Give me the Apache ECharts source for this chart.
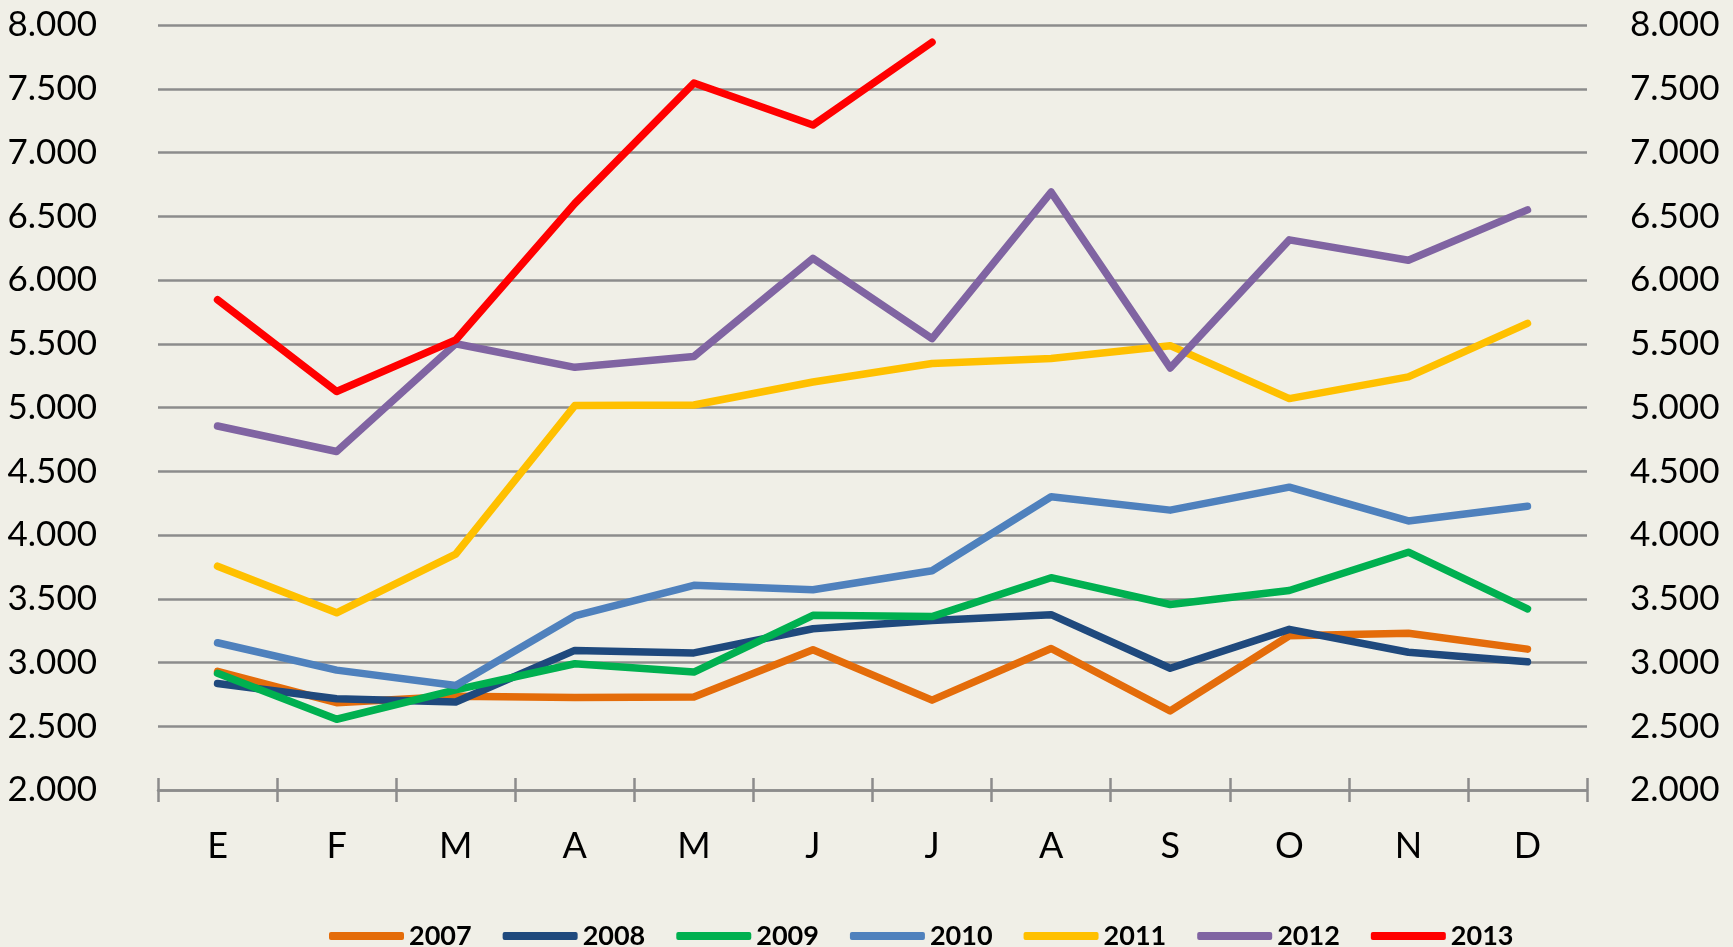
<!DOCTYPE html>
<html>
<head>
<meta charset="utf-8">
<script src="https://cdn.jsdelivr.net/npm/echarts@6/dist/echarts.min.js"></script>
<style>
html,body{margin:0;padding:0;background:#F0EFE7;}
#c{width:1733px;height:947px;}
</style>
</head>
<body>
<div id="c"></div>
<script>
const months = ['E','F','M','A','M','J','J','A','S','O','N','D'];
const s2007 = [2930, 2685, 2735, 2725, 2730, 3100, 2705, 3110, 2620, 3210, 3230, 3105];
const s2008 = [2835, 2715, 2690, 3095, 3075, 3265, 3330, 3375, 2955, 3260, 3080, 3005];
const s2009 = [2915, 2555, 2785, 2990, 2925, 3370, 3360, 3665, 3455, 3565, 3865, 3420];
const s2010 = [3155, 2940, 2820, 3365, 3605, 3570, 3720, 4300, 4195, 4375, 4110, 4225];
const s2011 = [3755, 3390, 3850, 5015, 5020, 5200, 5345, 5385, 5485, 5070, 5240, 5660];
const s2012 = [4855, 4655, 5500, 5315, 5400, 6170, 5540, 6690, 5310, 6315, 6155, 6550];
const s2013 = [5845, 5125, 5530, 6600, 7545, 7215, 7865];
const seriesNames = ['2007','2008','2009','2010','2011','2012','2013'];
const seriesData = [s2007, s2008, s2009, s2010, s2011, s2012, s2013];
const colors = ['#E46C0A','#1F497D','#00B050','#4F81BD','#FFC000','#8064A2','#FF0000'];
const yMin = 2000, yMax = 8000, yStep = 500;

const font = "Lato,'Liberation Sans',sans-serif";
const fmt = v => (v/1000).toFixed(3);

const chart = echarts.init(document.getElementById('c'), null, {renderer:'canvas'});
const yCommon = {
  type:'value', min:yMin, max:yMax, interval:yStep,
  axisLine:{show:false}, axisTick:{show:false},
  axisLabel:{formatter:fmt, color:'#000', fontFamily:font, fontSize:35}
};
chart.setOption({
  backgroundColor:'#F0EFE7',
  animation:false,
  color: colors,
  grid:{left:158, right:146, top:25, bottom:157, containLabel:false},
  legend:{
    data: seriesNames,
    left: 324, top: 916,
    icon:'roundRect', itemWidth:75, itemHeight:8, itemGap:31,
    textStyle:{fontFamily:font, fontSize:27, fontWeight:'bold', color:'#000', lineHeight:30}
  },
  xAxis:[{
    type:'category', data:months, position:'bottom',
    axisLine:{show:true, lineStyle:{color:'#8C8C8C', width:2.5}},
    axisTick:{show:true, length:12, lineStyle:{color:'#8C8C8C', width:2.5}},
    axisLabel:{color:'#000', fontFamily:font, fontSize:36, margin:38},
    splitLine:{show:false}
  },{
    type:'category', data:months, position:'bottom',
    axisLine:{show:false},
    axisTick:{show:true, inside:true, length:12, lineStyle:{color:'#8C8C8C', width:2.5}},
    axisLabel:{show:false},
    splitLine:{show:false}
  }],
  yAxis:[
    Object.assign({}, yCommon, {position:'left',
      axisLabel:Object.assign({}, yCommon.axisLabel, {margin:61}),
      splitLine:{show:true, lineStyle:{color:'#8C8C8C', width:2.5}}}),
    Object.assign({}, yCommon, {position:'right',
      axisLabel:Object.assign({}, yCommon.axisLabel, {margin:43}),
      splitLine:{show:false}})
  ],
  series: seriesNames.map((n,i)=>({
    name:n, type:'line', data:seriesData[i], xAxisIndex:0, yAxisIndex:0,
    symbol:'none', smooth:false,
    lineStyle:{width:7.5, color:colors[i], cap:'round', join:'round'},
    itemStyle:{color:colors[i]}
  }))
});
</script>
</body>
</html>
